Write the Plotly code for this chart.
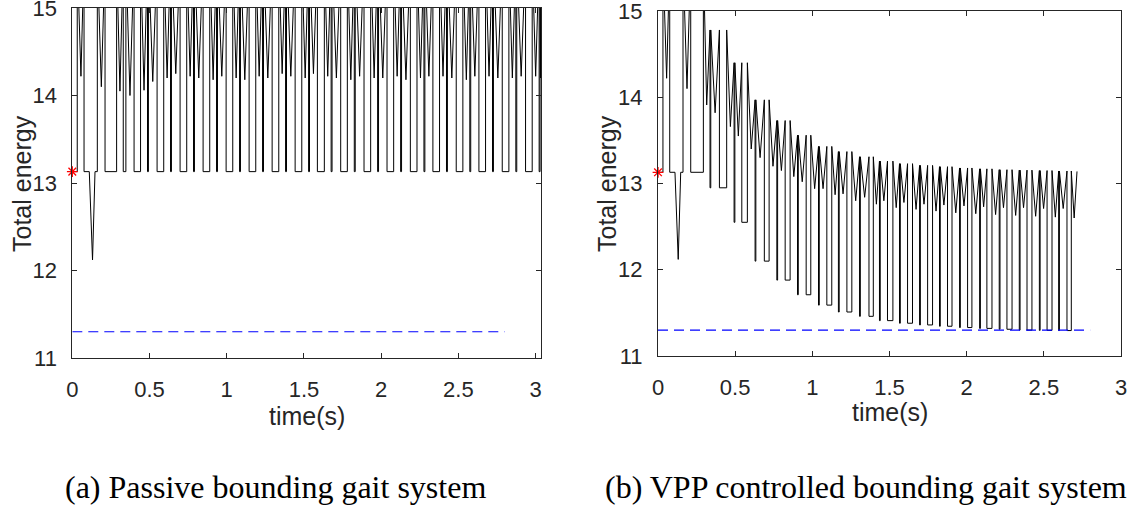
import plotly.graph_objects as go

# ---------------- data ----------------
BASE = 13.13          # flight-phase energy level of the passive gait
OVER = 15.6           # stance energy peaks that leave the [11, 15] window
E_MIN = 11.3          # minimum energy reference (dashed line)
E_MIN_T = [0.0, 2.8]

# opening transient, identical for both systems
start_t = [0.000, 0.032, 0.032, 0.056, 0.076, 0.076, 0.110, 0.131, 0.147, 0.162, 0.162, 0.188, 0.212, 0.212]
start_e = [BASE, BASE, OVER, 14.22, OVER, BASE, BASE, 12.12, BASE, BASE, OVER, 14.10, OVER, BASE]

# (a) passive system: wide flight phase [on, off], short flight notch [on, off], stance dips
pas_flat_on   = [0.212, 0.400, 0.549, 0.698, 0.847, 0.996, 1.145, 1.294, 1.443, 1.587, 1.738, 1.889, 2.038, 2.189, 2.335, 2.486, 2.633, 2.784, 2.935]
pas_flat_off  = [0.287, 0.442, 0.592, 0.741, 0.890, 1.039, 1.188, 1.337, 1.486, 1.632, 1.781, 1.932, 2.081, 2.232, 2.378, 2.529, 2.676, 2.827, 2.978]
pas_notch_on  = [0.330, 0.487, 0.636, 0.785, 0.934, 1.083, 1.232, 1.381, 1.530, 1.676, 1.826, 1.977, 2.126, 2.277, 2.423, 2.574, 2.721, 2.872, 3.023]
pas_notch_off = [0.347, 0.493, 0.642, 0.791, 0.940, 1.089, 1.238, 1.387, 1.536, 1.682, 1.832, 1.983, 2.132, 2.283, 2.429, 2.580, 2.727, 2.878, 3.029]
pas_dip1      = [14.05, 14.06, 14.20, 14.22, 14.18, 14.20, 14.22, 14.25, 14.20, 14.22, 14.18, 14.20, 14.22, 14.20, 14.22, 14.18, 14.22, 14.20, 14.22]
pas_dip2      = [14.00, 14.16, 14.25, 14.20, 14.22, 14.18, 14.20, 14.22, 14.25, 14.20, 14.22, 14.20, 14.18, 14.22, 14.20, 14.22, 14.20, 14.22, 14.20]
PAS_END = 3.035

# (b) VPP controlled system: short notch time, long notch [on, off], notch floor,
# stance peak and the two stance valleys of every stride
vpp_notch     = [0.337, 0.493, 0.629, 0.770, 0.904, 1.040, 1.169, 1.306, 1.435, 1.565, 1.695, 1.824, 1.954, 2.084, 2.211, 2.341, 2.471, 2.596]
vpp_rect_on   = [0.398, 0.543, 0.689, 0.824, 0.960, 1.094, 1.224, 1.367, 1.487, 1.617, 1.747, 1.876, 2.006, 2.131, 2.261, 2.391, 2.521, 2.650]
vpp_rect_off  = [0.445, 0.579, 0.720, 0.856, 0.990, 1.126, 1.256, 1.395, 1.522, 1.649, 1.779, 1.905, 2.034, 2.164, 2.294, 2.423, 2.553, 2.678]
vpp_floor     = [12.95, 12.55, 12.10, 11.88, 11.71, 11.59, 11.51, 11.46, 11.41, 11.38, 11.36, 11.345, 11.33, 11.32, 11.31, 11.30, 11.297, 11.295]
vpp_peak      = [14.78, 14.40, 13.97, 13.73, 13.56, 13.43, 13.37, 13.31, 13.26, 13.23, 13.21, 13.195, 13.18, 13.17, 13.16, 13.155, 13.15, 13.145]
vpp_valley_a  = [13.82, 13.55, 13.30, 13.15, 13.02, 12.94, 12.88, 12.84, 12.80, 12.78, 12.76, 12.75, 12.74, 12.73, 12.72, 12.72, 12.71, 12.71]
vpp_valley_b  = [13.66, 13.40, 13.20, 13.08, 12.94, 12.87, 12.80, 12.76, 12.72, 12.70, 12.68, 12.66, 12.65, 12.64, 12.63, 12.62, 12.61, 12.60]
VPP_FLAT_END = 0.294
VPP_FIRST_VALLEY = 13.91
VPP_END = (2.715, 13.14)

# ---------------- curves ----------------
def passive_curve():
    t, e = list(start_t), list(start_e)
    n = len(pas_flat_on)
    for i in range(n):
        nxt = pas_flat_on[i + 1] if i + 1 < n else PAS_END
        t += [pas_flat_on[i], pas_flat_off[i], pas_flat_off[i],
              (pas_flat_off[i] + pas_notch_on[i]) / 2, pas_notch_on[i], pas_notch_on[i],
              pas_notch_off[i], pas_notch_off[i], (pas_notch_off[i] + nxt) / 2, nxt]
        e += [BASE, BASE, OVER, pas_dip1[i], OVER, BASE, BASE, OVER, pas_dip2[i], OVER]
    return t, e


def vpp_curve():
    t, e = list(start_t), list(start_e)
    t += [VPP_FLAT_END, VPP_FLAT_END, (VPP_FLAT_END + vpp_notch[0]) / 2]
    e += [BASE, OVER, VPP_FIRST_VALLEY]
    n = len(vpp_notch)
    w = 0.005
    for i in range(n):
        nxt = vpp_notch[i + 1] if i + 1 < n else VPP_END[0]
        p, f = vpp_peak[i], vpp_floor[i]
        t += [vpp_notch[i], vpp_notch[i], vpp_notch[i] + w, vpp_notch[i] + w,
              (vpp_notch[i] + w + vpp_rect_on[i]) / 2,
              vpp_rect_on[i], vpp_rect_on[i], vpp_rect_off[i], vpp_rect_off[i],
              (vpp_rect_off[i] + nxt) / 2]
        e += [p, f, f, p, vpp_valley_a[i], p, f, f, p, vpp_valley_b[i]]
    t.append(VPP_END[0])
    e.append(VPP_END[1])
    return t, e


AX = "#262626"
TICK_FONT = dict(family="Liberation Sans, Arial, sans-serif", size=22, color=AX)
LABEL_FONT = dict(family="Liberation Sans, Arial, sans-serif", size=25, color=AX)
CAP_FONT = dict(family="Liberation Serif, Times New Roman, serif", size=32, color="#000000")

fig = go.Figure()

pt, pe = passive_curve()
vt, ve = vpp_curve()

for t, e, xa, ya in [(pt, pe, "x", "y"), (vt, ve, "x2", "y2")]:
    fig.add_trace(go.Scatter(x=t, y=e, mode="lines", xaxis=xa, yaxis=ya,
                             line=dict(color="black", width=1), showlegend=False,
                             hoverinfo="skip"))
    fig.add_trace(go.Scatter(x=E_MIN_T, y=[E_MIN, E_MIN], mode="lines", xaxis=xa, yaxis=ya,
                             line=dict(color="#0000ff", width=1.1, dash="10px,6px"),
                             showlegend=False, hoverinfo="skip"))
    fig.add_trace(go.Scatter(x=[0], y=[BASE], mode="markers", xaxis=xa, yaxis=ya,
                             marker=dict(symbol="asterisk-open", size=9, color="#ff0000",
                                         line=dict(color="#ff0000", width=1.3)),
                             cliponaxis=False, showlegend=False, hoverinfo="skip"))

axis_common = dict(showline=True, mirror="ticks", linecolor=AX, linewidth=1,
                   ticks="inside", ticklen=5, tickcolor=AX, tickwidth=1,
                   showgrid=False, zeroline=False, tickfont=TICK_FONT,
                   ticklabeloverflow="allow", automargin=False)
x_ticks = dict(tickvals=[0, 0.5, 1, 1.5, 2, 2.5, 3],
               ticktext=["0", "0.5", "1", "1.5", "2", "2.5", "3"], ticklabelstandoff=12)
y_ticks = dict(tickvals=[11, 12, 13, 14, 15], ticklabelstandoff=10)

fig.update_layout(
    width=1137, height=508,
    margin=dict(l=0, r=0, t=0, b=0, autoexpand=False),
    paper_bgcolor="white", plot_bgcolor="white",
    xaxis=dict(domain=[72.3 / 1137, 541 / 1137], range=[0, 3.035], anchor="y",
               **x_ticks, **axis_common),
    yaxis=dict(domain=[(508 - 358) / 508, (508 - 8) / 508], range=[11, 15], anchor="x",
               **y_ticks, **axis_common),
    xaxis2=dict(domain=[658 / 1137, 1121 / 1137], range=[0, 3], anchor="y2",
                **x_ticks, **axis_common),
    yaxis2=dict(domain=[(508 - 356) / 508, (508 - 11) / 508], range=[11, 15], anchor="x2",
                **y_ticks, **axis_common),
)

annotations = [
    dict(text="time(s)", x=306.6 / 1137, y=1 - 416 / 508, font=LABEL_FONT),
    dict(text="time(s)", x=889.5 / 1137, y=1 - 412 / 508, font=LABEL_FONT),
    dict(text="Total energy", x=22 / 1137, y=1 - 184 / 508, textangle=-90, font=LABEL_FONT),
    dict(text="Total energy", x=607 / 1137, y=1 - 184 / 508, textangle=-90, font=LABEL_FONT),
    dict(text="(a) Passive bounding gait system", x=275 / 1137, y=1 - 487 / 508, font=CAP_FONT),
    dict(text="(b) VPP controlled bounding gait system", x=866 / 1137, y=1 - 487 / 508, font=CAP_FONT),
]
for a in annotations:
    fig.add_annotation(xref="paper", yref="paper", showarrow=False,
                       xanchor="center", yanchor="middle", **a)

fig.write_html("out.html")
